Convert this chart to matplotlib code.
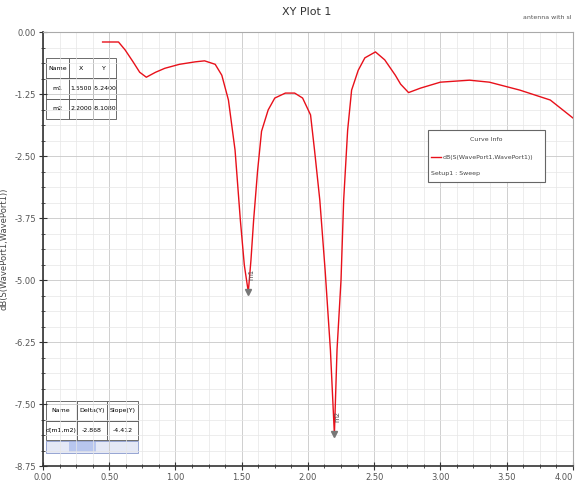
import matplotlib
matplotlib.use("Agg")
import matplotlib.pyplot as plt
from matplotlib.ticker import MultipleLocator

# sweep (GHz, dB)
freq = [0.45, 0.57, 0.62, 0.68, 0.73, 0.78, 0.85, 0.92, 1.03, 1.15, 1.22, 1.30,
        1.35, 1.40, 1.45, 1.49, 1.52, 1.55, 1.57, 1.59, 1.62, 1.65, 1.70, 1.75,
        1.83, 1.90, 1.96, 2.02, 2.05, 2.09, 2.13, 2.17, 2.20, 2.22, 2.25, 2.27,
        2.30, 2.33, 2.38, 2.43, 2.51, 2.58, 2.66, 2.70, 2.76, 2.85, 3.00, 3.22,
        3.37, 3.60, 3.83, 4.00]
s11 = [-0.20, -0.20, -0.36, -0.60, -0.81, -0.91, -0.81, -0.73, -0.65, -0.60, -0.58, -0.65,
       -0.87, -1.37, -2.38, -3.79, -4.70, -5.24, -4.60, -3.80, -2.80, -2.00, -1.57, -1.33,
       -1.23, -1.23, -1.33, -1.67, -2.38, -3.39, -4.80, -6.41, -8.11, -6.40, -5.00, -3.39,
       -1.98, -1.17, -0.77, -0.52, -0.40, -0.56, -0.87, -1.05, -1.22, -1.13, -1.01, -0.97,
       -1.01, -1.17, -1.37, -1.73]

markers = ["m1", "m2"]
mark_x = [1.55, 2.20]
mark_y = [-5.24, -8.108]
delta_y = "-2.868"
slope_y = "-4.412"

xticks = [0.0, 0.5, 1.0, 1.5, 2.0, 2.5, 3.0, 3.5, 4.0]
yticks = [0.0, -1.25, -2.5, -3.75, -5.0, -6.25, -7.5, -8.75]

fig = plt.figure(figsize=(5.78, 4.86), dpi=100)
ax = fig.add_axes([0.0744, 0.041, 0.9166, 0.893])

ax.plot(freq, s11, color="#e8101a", lw=1.0)
ax.set_xlim(0, 4.0)
ax.set_ylim(-8.75, 0)
ax.set_xticks(xticks)
ax.set_yticks(yticks)
ax.set_xticklabels(["%.2f" % v for v in xticks], fontsize=6, color="#555555")
ax.get_xticklabels()[-1].set_ha("right")
ax.set_yticklabels(["%.2f" % v for v in yticks], fontsize=6, color="#555555")
ax.xaxis.set_minor_locator(MultipleLocator(0.125))
ax.yaxis.set_minor_locator(MultipleLocator(0.3125))
ax.grid(which="major", color="#c8c8c8", lw=0.6)
ax.grid(which="minor", color="#e6e6e6", lw=0.5)
ax.tick_params(which="both", direction="inout", color="#333333")
ax.tick_params(which="major", length=6, width=0.8, pad=2)
ax.tick_params(which="minor", length=3, width=0.6)
for side in ["top", "right"]:
    ax.spines[side].set_color("#aaaaaa")
for side in ["left", "bottom"]:
    ax.spines[side].set_color("#333333")
    ax.spines[side].set_linewidth(1.2)

ax.set_ylabel("dB(S(WavePort1,WavePort1))", fontsize=6, color="#444444", labelpad=4)
fig.text(0.53, 0.975, "XY Plot 1", fontsize=8, color="#333333", ha="center", va="center")
fig.text(0.905, 0.965, "antenna with sl", fontsize=4.5, color="#555555", ha="left", va="center")

# markers
for name, mx, my in zip(markers, mark_x, mark_y):
    ax.plot(mx, my, marker="v", color="#777777", ms=4)
    ax.text(mx + 0.02, my + 0.25, name, fontsize=5, color="#555555", rotation=90,
            ha="center", va="bottom")

# marker table
tab = ax.table(cellText=[[markers[i], "%.4f" % mark_x[i], "%.4f" % mark_y[i]] for i in range(2)],
               colLabels=["Name", "X", "Y"], cellLoc="center",
               bbox=[0.005, 0.80, 0.133, 0.14])
tab.auto_set_font_size(False)
tab.set_fontsize(4.5)
for cell in tab.get_celld().values():
    cell.set_edgecolor("#555555")
    cell.set_linewidth(0.6)

# delta table
dtab = ax.table(cellText=[["d(m1,m2)", delta_y, slope_y]],
                colLabels=["Name", "Delta(Y)", "Slope(Y)"], cellLoc="center",
                bbox=[0.005, 0.06, 0.175, 0.09])
dtab.auto_set_font_size(False)
dtab.set_fontsize(4.5)
for cell in dtab.get_celld().values():
    cell.set_edgecolor("#555555")
    cell.set_linewidth(0.6)
ax.add_patch(plt.Rectangle((0.005, 0.03), 0.175, 0.028, transform=ax.transAxes,
                           facecolor="#e4e8f6", edgecolor="#8899cc", lw=0.6))
ax.add_patch(plt.Rectangle((0.05, 0.033), 0.05, 0.022, transform=ax.transAxes,
                           facecolor="#b8c6ee", edgecolor="none"))

# curve info box
ax.add_patch(plt.Rectangle((0.727, 0.655), 0.22, 0.12, transform=ax.transAxes,
                           facecolor="white", edgecolor="#666666", lw=0.8, zorder=5))
ax.text(0.837, 0.752, "Curve Info", transform=ax.transAxes, fontsize=4.5,
        ha="center", va="center", color="#444444", zorder=6)
ax.plot([0.732, 0.752], [0.712, 0.712], transform=ax.transAxes, color="#e8101a", lw=1, zorder=6)
ax.text(0.755, 0.712, "dB(S(WavePort1,WavePort1))", transform=ax.transAxes, fontsize=4.5,
        ha="left", va="center", color="#444444", zorder=6)
ax.text(0.732, 0.675, "Setup1 : Sweep", transform=ax.transAxes, fontsize=4.5,
        ha="left", va="center", color="#444444", zorder=6)

fig.savefig("out.png", dpi=100)
